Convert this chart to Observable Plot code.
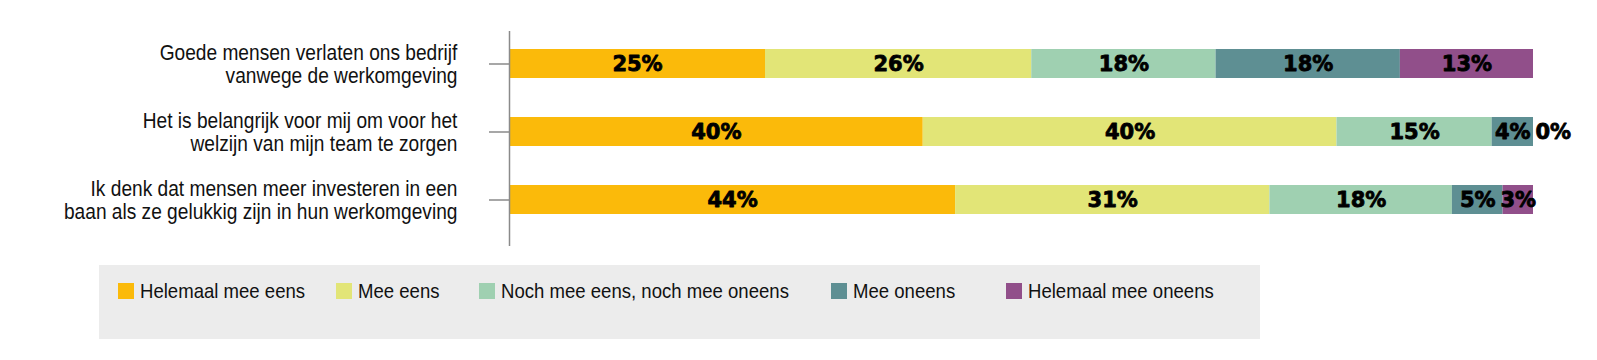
<!DOCTYPE html>
<html>
<head>
<meta charset="utf-8">
<script src="https://cdn.jsdelivr.net/npm/d3@7"></script>
<script src="https://cdn.jsdelivr.net/npm/@observablehq/plot@0.6"></script>
<style>
  body { margin: 0; background: #fff; }
  #chart svg { display: block; }
  #legend {
    position: relative;
    margin-left: 99px; margin-top: 15px; width: 1161px; height: 74px;
    background: #ececec;
    font-family: "Liberation Sans", Arial, sans-serif;
    font-size: 21px; color: #111;
  }
  .item { position: absolute; top: 18px; height: 16px; display: flex; align-items: center; white-space: nowrap; }
  .sw { width: 16px; height: 16px; margin-right: 6px; flex: none; }
  .tx { display: inline-block; transform: scaleX(0.884); transform-origin: left center; }
</style>
</head>
<body>
<div id="chart"></div>
<div id="legend"></div>
<script>
const questions = [
  "Goede mensen verlaten ons bedrijf\nvanwege de werkomgeving",
  "Het is belangrijk voor mij om voor het\nwelzijn van mijn team te zorgen",
  "Ik denk dat mensen meer investeren in een\nbaan als ze gelukkig zijn in hun werkomgeving"
];
const categories = ["Helemaal mee eens", "Mee eens", "Noch mee eens, noch mee oneens", "Mee oneens", "Helemaal mee oneens"];
const colors = ["#fbba0a", "#e2e577", "#9fd0b1", "#5e8f93", "#914f8a"];
const valuesQ1 = [25, 26, 18, 18, 13];
const valuesQ2 = [40, 40, 15, 4, 0];
const valuesQ3 = [44, 31, 18, 5, 3];

const series = [valuesQ1, valuesQ2, valuesQ3];
const data = [];
questions.forEach((q, i) => categories.forEach((c, j) => data.push({q, cat: c, v: series[i][j]})));

const stackOpts = {x: "v", y: "q", z: "cat", order: categories, offset: "normalize"};
const labelFont = "DejaVu Sans";
const marginLeft = 509, tickSize = 20, tickPadding = 32, squeeze = 0.87;

const plot = Plot.plot({
  width: 1597,
  height: 250,
  marginTop: 31,
  marginBottom: 4,
  marginLeft,
  marginRight: 64,
  style: {fontFamily: "'Liberation Sans', Arial, sans-serif", background: "#fff"},
  x: {domain: [0, 1], axis: null},
  y: {type: "band", domain: questions, range: [48.7, 214], paddingInner: 0.58, paddingOuter: 0, axis: null},
  color: {domain: categories, range: colors},
  marks: [
    Plot.barX(data, Plot.stackX({...stackOpts, fill: "cat"})),
    Plot.text(data, Plot.stackX({...stackOpts, text: d => d.v > 0 ? d.v + "%" : "",
      fontFamily: labelFont, fontWeight: "bold", fontSize: 21, fill: "#000", stroke: "#000", strokeWidth: 0.8})),
    Plot.text(data, Plot.stackX2({...stackOpts, text: d => d.v === 0 ? d.v + "%" : "",
      textAnchor: "start", dx: 2, fontFamily: labelFont, fontWeight: "bold", fontSize: 21, fill: "#000", stroke: "#000", strokeWidth: 0.8})),
    Plot.axisY({tickSize, tickPadding, stroke: "#8a8a8a", strokeWidth: 1.5,
      fontSize: 22, lineHeight: 1.045, fill: "#111", label: null}),
    Plot.ruleX([0], {stroke: "#8a8a8a", strokeWidth: 1.5})
  ]
});
document.getElementById("chart").appendChild(plot);

// narrow the axis labels horizontally around their right-aligned anchor
const anchorX = marginLeft - tickSize - tickPadding;
const lab = plot.querySelector('g[aria-label="y-axis tick label"]');
if (lab) {
  const prev = lab.getAttribute("transform") || "";
  lab.setAttribute("transform", `translate(${anchorX},0) scale(${squeeze},1) translate(${-anchorX},0) ${prev}`);
}

const legend = document.getElementById("legend");
const offsets = [19, 237, 380, 732, 907];
categories.forEach((c, i) => {
  const it = document.createElement("div");
  it.className = "item";
  it.style.left = offsets[i] + "px";
  const sw = document.createElement("span");
  sw.className = "sw";
  sw.style.background = colors[i];
  const tx = document.createElement("span");
  tx.className = "tx";
  tx.textContent = c;
  it.appendChild(sw); it.appendChild(tx);
  legend.appendChild(it);
});
</script>
</body>
</html>
